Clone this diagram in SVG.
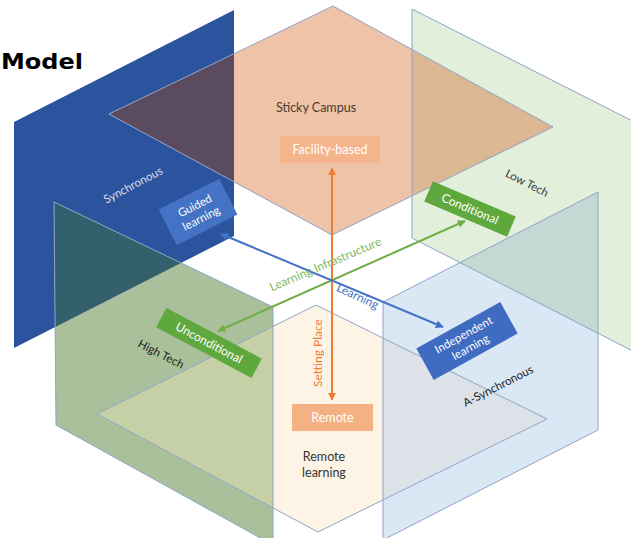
<svg xmlns="http://www.w3.org/2000/svg" width="631" height="538" viewBox="0 0 631 538">
<style>
.t{font-family:Lato,"Open Sans","Liberation Sans",sans-serif;font-size:12px;}
.w{fill:#ffffff;text-anchor:middle}
.d{fill:#333333;text-anchor:middle}
.edge{fill:none;stroke:#8FA3C6;stroke-width:1}
</style>
<defs>
<clipPath id="cBlue"><polygon points="234,10 234,236 14,348 14,122"/></clipPath>
<clipPath id="cOrange"><polygon points="333,6 553,127 332,235 109,114"/></clipPath>
<clipPath id="cLow"><polygon points="412,9 660,135 660,365 412,238"/></clipPath>
<clipPath id="cHigh"><polygon points="54,202 273,307 273,545 56,425"/></clipPath>
<clipPath id="cAsync"><polygon points="383,302 598,192 598,430 383,540"/></clipPath>
<marker id="mo" viewBox="0 0 10 10" refX="9" refY="5" markerWidth="4" markerHeight="4" orient="auto-start-reverse"><path d="M0,0 L10,5 L0,10z" fill="#ED7D31"/></marker>
<marker id="mg" viewBox="0 0 10 10" refX="9" refY="5" markerWidth="4" markerHeight="4" orient="auto-start-reverse"><path d="M0,0 L10,5 L0,10z" fill="#70AD47"/></marker>
<marker id="mb" viewBox="0 0 10 10" refX="9" refY="5" markerWidth="4" markerHeight="4" orient="auto-start-reverse"><path d="M0,0 L10,5 L0,10z" fill="#4472C4"/></marker>
</defs>
<rect width="631" height="538" fill="#ffffff"/>

<g id="planes">
<polygon id="plane-synchronous" points="234,10 234,236 14,348 14,122" fill="#2C549E"/>
<polygon id="plane-sticky" points="333,6 553,127 332,235 109,114" fill="#EFC3A8"/>
<polygon id="plane-lowtech" points="412,9 660,135 660,365 412,238" fill="#E2EFDA"/>
<polygon id="plane-hightech" points="54,202 273,307 273,545 56,425" fill="#A9C09B"/>
<polygon id="plane-async" points="383,302 598,192 598,430 383,540" fill="#DAE7F5"/>
<polygon id="plane-remote" points="97,414 316,305 547,419 318,532" fill="#FDF4E6"/>
<!-- overlaps -->
<polygon points="333,6 553,127 332,235 109,114" fill="#5B4B60" clip-path="url(#cBlue)"/>
<polygon points="333,6 553,127 332,235 109,114" fill="#DBB893" clip-path="url(#cLow)"/>
<polygon points="54,202 273,307 273,545 56,425" fill="#345F6C" clip-path="url(#cBlue)"/>
<polygon points="383,302 598,192 598,430 383,540" fill="#C3D9D3" clip-path="url(#cLow)"/>
<polygon points="97,414 316,305 547,419 318,532" fill="#C5D0A6" clip-path="url(#cHigh)"/>
<polygon points="97,414 316,305 547,419 318,532" fill="#DDE2E8" clip-path="url(#cAsync)"/>
<!-- edges -->
<polygon class="edge" points="333,6 553,127 332,235 109,114"/>
<polygon class="edge" points="412,9 660,135 660,365 412,238"/>
<polygon class="edge" points="54,202 273,307 273,545 56,425"/>
<polygon class="edge" points="383,302 598,192 598,430 383,540"/>
<polygon class="edge" points="97,414 316,305 547,419 318,532"/>
</g>

<g id="plane-labels" class="t">
<text x="133" y="189" transform="rotate(-28 133 185)" fill="#D9DDE6" text-anchor="middle" font-size="11.5">Synchronous</text>
<text x="527" y="187" transform="rotate(27 527 183)" fill="#3A3A3A" text-anchor="middle" font-size="11.5">Low Tech</text>
<text x="161" y="358" transform="rotate(27 161 354)" fill="#222222" text-anchor="middle" font-size="11.5">High Tech</text>
<text x="498" y="390" transform="rotate(-27 498 386)" fill="#222222" text-anchor="middle" font-size="11.5">A-Synchronous</text>
<text x="316" y="112" class="d" fill="#4A3A30" font-size="12.5" style="fill:#4A3A30">Sticky Campus</text>
<text class="d" font-size="12.5"><tspan x="324" y="461">Remote</tspan><tspan x="324" y="477">learning</tspan></text>
</g>

<text id="title" x="1" y="69" font-family="DejaVu Sans, sans-serif" font-weight="bold" font-size="22" textLength="82" lengthAdjust="spacingAndGlyphs" fill="#000000">Model</text>

<g id="connectors" stroke-width="2" fill="none">
<line id="axis-setting-place" x1="332" y1="168" x2="332" y2="400" stroke="#ED7D31" marker-start="url(#mo)" marker-end="url(#mo)"/>
<line id="axis-infrastructure" x1="218" y1="331" x2="465" y2="221" stroke="#70AD47" marker-start="url(#mg)" marker-end="url(#mg)"/>
<line id="axis-learning" x1="221" y1="234" x2="443" y2="327" stroke="#4472C4" marker-start="url(#mb)" marker-end="url(#mb)"/>
</g>

<g id="axis-labels" class="t" font-size="11">
<text x="327" y="268" transform="rotate(-23 327 268)" fill="#7DB95A" text-anchor="middle">Learning Infrastructure</text>
<text x="356" y="300" transform="rotate(25 356 300)" fill="#4472C4" text-anchor="middle">Learning</text>
<text x="326" y="357" transform="rotate(-90 322 357)" fill="#ED7D31" text-anchor="middle">Setting Place</text>
</g>

<g id="node-facility" class="t">
<rect x="280" y="136" width="100" height="27" fill="#F4B48C"/>
<text x="330" y="154" class="w" font-size="12.5">Facility-based</text>
</g>
<g id="node-remote" class="t">
<rect x="292" y="404" width="81" height="27" fill="#F4B183"/>
<text x="332.5" y="422" class="w" font-size="12.5">Remote</text>
</g>
<g id="node-guided" class="t" transform="rotate(-27 198 212)">
<rect x="164" y="192" width="68" height="40" fill="#4472C4"/>
<text class="w" font-size="11.5"><tspan x="198" y="209">Guided</tspan><tspan x="198" y="223">learning</tspan></text>
</g>
<g id="node-conditional" class="t" transform="rotate(23 470 209)">
<rect x="425" y="198" width="90" height="22" fill="#5FA83E"/>
<text x="470" y="213" class="w" font-size="12">Conditional</text>
</g>
<g id="node-unconditional" class="t" transform="rotate(28 209 343)">
<rect x="155" y="332" width="108" height="22" fill="#5FA83E"/>
<text x="209" y="347" class="w" font-size="12">Unconditional</text>
</g>
<g id="node-independent" class="t" transform="rotate(-29 467 341)">
<rect x="419" y="323" width="96" height="36" fill="#3F6CC0"/>
<text class="w" font-size="11.5"><tspan x="467" y="338">Independent</tspan><tspan x="467" y="352">learning</tspan></text>
</g>
</svg>
